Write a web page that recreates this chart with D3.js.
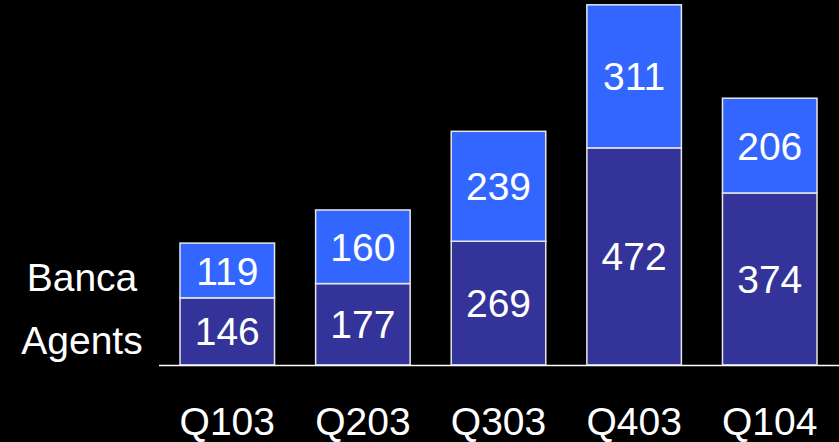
<!DOCTYPE html>
<html>
<head>
<meta charset="utf-8">
<script src="https://cdn.jsdelivr.net/npm/d3@7"></script>
<style>
  html, body { margin: 0; padding: 0; background: #000; }
  svg { display: block; }
</style>
</head>
<body>
<svg id="chart" width="839" height="442"></svg>
<script>
const categories = ["Q103", "Q203", "Q303", "Q403", "Q104"];
const agents = [146, 177, 269, 472, 374];
const banca = [119, 160, 239, 311, 206];
const seriesNames = ["Agents", "Banca"];
const seriesColors = ["#333399", "#3366FF"];

const W = 839, H = 442;
const svg = d3.select("#chart");
svg.append("rect").attr("width", W).attr("height", H).attr("fill", "#000");

const font = "Arial, 'Liberation Sans', sans-serif";
const baseY = 365;

const x = d3.scaleBand().domain(categories).range([180, 817]).paddingInner(0.303).paddingOuter(0);
const y = d3.scaleLinear().domain([0, 800]).range([baseY, -3]);

const table = categories.map((c, i) => ({ cat: c, Agents: agents[i], Banca: banca[i] }));
const stacked = d3.stack().keys(seriesNames)(table);

const layers = svg.append("g").selectAll("g").data(stacked).join("g")
  .attr("fill", (d, i) => seriesColors[i]);

layers.selectAll("rect").data(d => d).join("rect")
  .attr("x", d => x(d.data.cat))
  .attr("y", d => y(d[1]))
  .attr("width", x.bandwidth())
  .attr("height", d => y(d[0]) - y(d[1]))
  .attr("stroke", "#e6e6e6")
  .attr("stroke-width", 1.5);

const fs = 39;
layers.selectAll("text").data(d => d).join("text")
  .attr("x", d => x(d.data.cat) + x.bandwidth() / 2)
  .attr("y", d => (y(d[0]) + y(d[1])) / 2 + fs * 0.36)
  .attr("text-anchor", "middle")
  .attr("fill", "#fff")
  .attr("font-family", font)
  .attr("font-size", fs)
  .text(d => d[1] - d[0]);

// baseline
svg.append("line")
  .attr("x1", 159).attr("x2", W)
  .attr("y1", baseY + 0.5).attr("y2", baseY + 0.5)
  .attr("stroke", "#fff").attr("stroke-width", 1.5);

// category axis
const xAxis = d3.axisBottom(x).tickSize(0).tickPadding(0);
const ax = svg.append("g").attr("transform", `translate(0,${baseY})`).call(xAxis);
ax.select(".domain").remove();
ax.selectAll("text")
  .attr("fill", "#fff")
  .attr("font-family", font)
  .attr("font-size", fs)
  .attr("dy", null)
  .attr("y", 70);

// series labels
const legendY = [354, 291];
svg.append("g").selectAll("text").data(seriesNames).join("text")
  .attr("x", 82)
  .attr("y", (d, i) => legendY[i])
  .attr("text-anchor", "middle")
  .attr("fill", "#fff")
  .attr("font-family", font)
  .attr("font-size", fs)
  .text(d => d);
</script>
</body>
</html>
